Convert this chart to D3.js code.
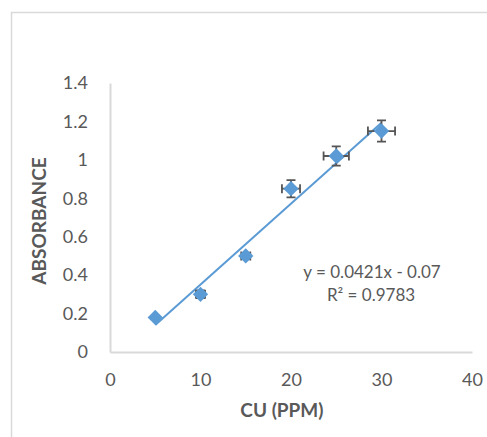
<!DOCTYPE html>
<html>
<head>
<meta charset="utf-8">
<script src="https://cdn.jsdelivr.net/npm/d3@7"></script>
<style>
  html, body { margin: 0; padding: 0; background: #fff; }
  svg { display: block; }
</style>
</head>
<body>
<svg id="chart" width="487" height="437"></svg>
<script>
// Copper calibration: concentration (ppm) vs absorbance, with error bars
const concentration = [5, 10, 15, 20, 25, 30];
const absorbance    = [0.18, 0.30, 0.50, 0.85, 1.02, 1.15];
const xError        = [0, 0.5, 0.5, 1.0, 1.4, 1.5];
const yError        = [0, 0.02, 0.015, 0.045, 0.05, 0.055];
const xTicks = [0, 10, 20, 30, 40];
const yTicks = [0, 0.2, 0.4, 0.6, 0.8, 1, 1.2, 1.4];
const slope = 0.0421, intercept = -0.07, rSquared = 0.9783;

const svg = d3.select("#chart");
const font = "Lato, 'Open Sans', sans-serif";
const textColor = "#595959";
const axisColor = "#d9d9d9";
const blue = "#5b9bd5";

// chart frame
svg.append("rect")
  .attr("x", 11.5).attr("y", 12.5)
  .attr("width", 500).attr("height", 500)
  .attr("fill", "#fff").attr("stroke", axisColor).attr("stroke-width", 1.5);

const x = d3.scaleLinear().domain([0, 40]).range([110, 472]);
const y = d3.scaleLinear().domain([0, 1.4]).range([352, 83]);

// axes
const xAxis = svg.append("g").attr("transform", `translate(0,${y(0)})`)
  .call(d3.axisBottom(x).tickValues(xTicks).tickSize(0).tickPadding(22).tickFormat(d3.format("d")));
const yAxis = svg.append("g").attr("transform", `translate(${x(0)},0)`)
  .call(d3.axisLeft(y).tickValues(yTicks).tickSize(0).tickPadding(22).tickFormat(d => String(+d.toFixed(1))));

[xAxis, yAxis].forEach(g => {
  g.select(".domain").attr("stroke", axisColor).attr("stroke-width", 2);
  g.selectAll("text").attr("fill", textColor).style("font-family", font).style("font-size", "18px");
});
xAxis.selectAll("text").attr("dy", "0.65em");

// trendline from the regression equation
const xs = d3.extent(concentration);
svg.append("line")
  .attr("x1", x(xs[0])).attr("y1", y(slope * xs[0] + intercept))
  .attr("x2", x(xs[1])).attr("y2", y(slope * xs[1] + intercept))
  .attr("stroke", blue).attr("stroke-width", 2);

const pts = concentration.map((c, i) => ({ c, a: absorbance[i], ex: xError[i], ey: yError[i] }));

// error bars
const eb = svg.append("g").attr("stroke", "#555").attr("stroke-width", 1.8).attr("fill", "none");
const cap = 4.5;
pts.filter(d => d.ex > 0 || d.ey > 0).forEach(d => {
  const cx = x(d.c), cy = y(d.a);
  const x0 = x(d.c - d.ex), x1 = x(d.c + d.ex);
  const y0 = y(d.a - d.ey), y1 = y(d.a + d.ey);
  eb.append("path").attr("d",
    `M${x0},${cy}H${x1}M${x0},${cy - cap}V${cy + cap}M${x1},${cy - cap}V${cy + cap}` +
    `M${cx},${y0}V${y1}M${cx - cap},${y0}H${cx + cap}M${cx - cap},${y1}H${cx + cap}`);
});

// markers
svg.append("g").selectAll("path").data(pts).join("path")
  .attr("transform", d => `translate(${x(d.c)},${y(d.a)})`)
  .attr("d", d3.symbol(d3.symbolDiamond2, 150))
  .attr("fill", blue);

// equation
const eq = svg.append("g").attr("fill", textColor).style("font-family", font).style("font-size", "17px").attr("text-anchor", "middle");
eq.append("text").attr("x", 372).attr("y", 278).text(`y = ${slope}x - ${Math.abs(intercept)}`);
eq.append("text").attr("x", 371).attr("y", 301).text(`R² = ${rSquared}`);

// axis titles
svg.append("text")
  .attr("x", x(19)).attr("y", 417)
  .attr("text-anchor", "middle").attr("fill", textColor)
  .style("font-family", font).style("font-size", "19px").style("font-weight", "bold")
  .text("CU (PPM)");
svg.append("text")
  .attr("transform", `translate(46,221) rotate(-90)`)
  .attr("text-anchor", "middle").attr("fill", textColor)
  .style("font-family", font).style("font-size", "19px").style("font-weight", "bold")
  .text("ABSORBANCE");
</script>
</body>
</html>
